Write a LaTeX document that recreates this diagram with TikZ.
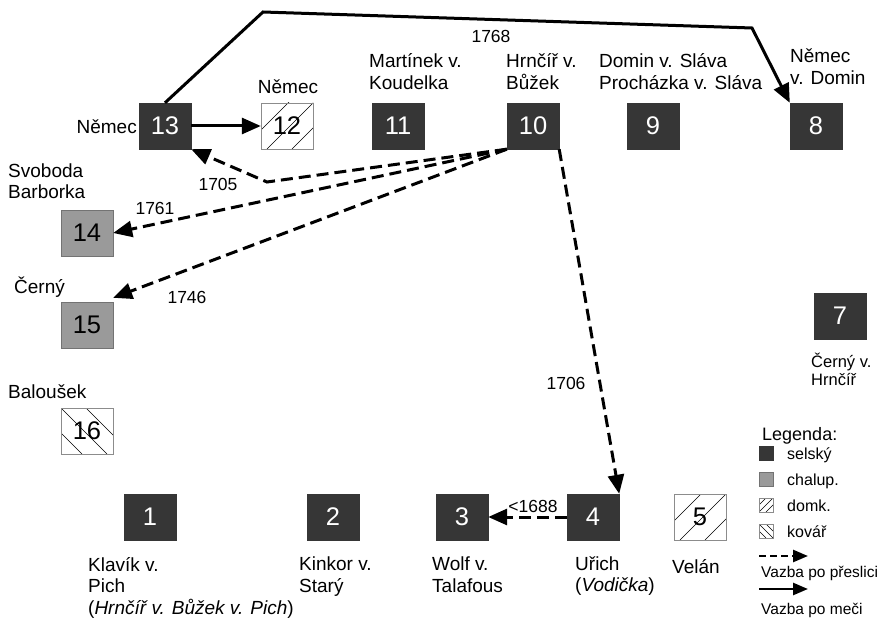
\documentclass[tikz,border=0pt]{standalone}
\usepackage{fontspec}
\setmainfont{Liberation Sans}
\usetikzlibrary{arrows.meta}
\definecolor{dark}{HTML}{363636}
\definecolor{mid}{HTML}{9A9A9A}
\newcommand\lst{\rule[-4pt]{0pt}{17.5pt}}
\newcommand\sst{\rule[-3.5pt]{0pt}{14pt}}
\begin{document}
\begin{tikzpicture}[x=1pt,y=-1pt,
 hatchne/.style={path picture={\foreach \c in {#1}{\draw[black,line width=0.6pt] ([xshift=\c pt]path picture bounding box.south west) -- ++(80pt,80pt);}}},
 hatchnw/.style={path picture={\foreach \c in {#1}{\draw[black,line width=0.6pt] ([xshift=\c pt]path picture bounding box.south west) -- ++(-80pt,80pt);}}},
 bigbox/.style={minimum width=52pt,minimum height=46pt,inner sep=0pt,font=\fontsize{25.5}{28}\selectfont},
 smallbox/.style={minimum width=14pt,minimum height=14pt,inner sep=0pt},
 fsel/.style={fill=dark,draw=dark,text=white},
 fcha/.style={fill=mid,draw=black!55,text=black},
 fhat/.style={fill=white,draw=black!45,text=black},
 lbl/.style={inner sep=0pt,align=left,anchor=north west,font=\fontsize{19}{21.5}\selectfont},
 lbs/.style={inner sep=0pt,font=\fontsize{19}{21.5}\selectfont},
 yr/.style={inner sep=0pt,font=\fontsize{17.5}{19}\selectfont},
 leg/.style={inner sep=0pt,anchor=base west,font=\fontsize{16}{18}\selectfont},
 legv/.style={inner sep=0pt,anchor=base west,font=\fontsize{15.5}{18}\selectfont},
 prs/.style={line width=3pt,dash pattern=on 12pt off 6pt,-{Triangle[length=19pt,width=16pt]}},
 mec/.style={line width=3pt,-{Triangle[length=19pt,width=16pt]}},
 lprs/.style={line width=2.5pt,dash pattern=on 7pt off 4pt,-{Triangle[length=15pt,width=12pt]}},
 lmec/.style={line width=2.5pt,-{Triangle[length=15pt,width=12pt]}},
]
\useasboundingbox (0,0) rectangle (881,620);
\fill[white] (0,0) rectangle (881,620);

% boxes
\node[bigbox,fsel] (n13) at (165,126) {13};
\node[bigbox,fhat,hatchne={-19,6,31}] (n12) at (287,126) {12};
\node[bigbox,fsel] (n11) at (398,126) {11};
\node[bigbox,fsel] (n10) at (533,126) {10};
\node[bigbox,fsel] (n9) at (653,126) {9};
\node[bigbox,fsel] (n8) at (816,126) {8};
\node[bigbox,fcha] (n14) at (87,233) {14};
\node[bigbox,fcha] (n15) at (87,325) {15};
\node[bigbox,fhat,hatchnw={21,46,71}] (n16) at (87,431) {16};
\node[bigbox,fsel] (n7) at (840,316) {7};
\node[bigbox,fsel] (n1) at (150,517) {1};
\node[bigbox,fsel] (n2) at (333,517) {2};
\node[bigbox,fsel] (n3) at (462,517) {3};
\node[bigbox,fsel] (n4) at (593,517) {4};
\node[bigbox,fhat,hatchne={-19,6,31}] (n5) at (700,517) {5};

% labels
\node[lbs,anchor=base east] (t13) at (137,134) {Němec};
\node[lbs,anchor=base] (t12) at (288,94) {Němec};
\node[lbl] (t11) at (369,53.5) {\lst Martínek v.\\\lst Koudelka};
\node[lbl] (t10) at (506,53.5) {\lst Hrnčíř v.\\\lst Bůžek};
\node[lbl] (t9) at (599,53.5) {\lst Domin v. Sláva\\\lst Procházka v. Sláva};
\node[lbl] (t8) at (790,48.5) {\lst Němec\\\lst v. Domin};
\node[lbl] (t14) at (8,163.5) {\lst Svoboda\\\lst Barborka};
\node[lbs,anchor=base west] (t15) at (14,294) {Černý};
\node[lbs,anchor=base west] (t16) at (8,398) {Baloušek};
\node[inner sep=0pt,align=left,anchor=north west,font=\fontsize{16.5}{18}\selectfont] (t7) at (811,353) {\sst Černý v.\\\sst Hrnčíř};
\node[lbl] (t1) at (88,557) {\lst Klavík v.\\\lst Pich\\\lst(\textit{Hrnčíř v. Bůžek v. Pich})};
\node[lbl] (t2) at (299,557) {\lst Kinkor v.\\\lst Starý};
\node[lbl] (t3) at (432,557) {\lst Wolf v.\\\lst Talafous};
\node[lbl] (t4) at (575,556) {\lst Uřich\\\lst(\textit{Vodička})};
\node[lbs,anchor=base west] (t5) at (672,573.5) {Velán};

% connectors
\coordinate (b1) at (263,12);
\coordinate (b2) at (752,28);
\coordinate (b3) at (267,182);
\draw[mec] (n13.north) -- (b1) -- (b2) -- (n8.north west);
\draw[mec] (n13.east) -- (n12.west);
\draw[prs] (n10.south west) -- (b3) -- (n13.south east);
\draw[prs] (n10.south west) -- (n14.east);
\draw[prs] (n10.south west) -- ([yshift=4pt]n15.north east);
\draw[prs] (n10.south east) -- (n4.north east);
\draw[prs] (n4.west) -- (n3.east);

% years
\node[yr] (y1768) at (491,36) {1768};
\node[yr] (y1705) at (218,184) {1705};
\node[yr] (y1761) at (155,208) {1761};
\node[yr] (y1746) at (187,297) {1746};
\node[yr] (y1706) at (566,383) {1706};
\node[yr] (y1688) at (533,506) {<1688};

% legend
\node[inner sep=0pt,anchor=base west,font=\fontsize{18}{21}\selectfont] (lgh) at (762,440) {Legenda:};
\node[smallbox,fsel] (q1) at (766,453) {};
\node[smallbox,fcha] (q2) at (766,479) {};
\node[smallbox,fhat,hatchne={-7,0,7}] (q3) at (766,505) {};
\node[smallbox,fhat,hatchnw={7,14,21}] (q4) at (766,531) {};
\node[leg] (l1) at (787,459.5) {selský};
\node[leg] (l2) at (787,485.5) {chalup.};
\node[leg] (l3) at (787,511.5) {domk.};
\node[leg] (l4) at (787,537.5) {kovář};
\coordinate (la1) at (759,556);
\coordinate (la2) at (808,556);
\coordinate (lb1) at (759,589);
\coordinate (lb2) at (808,589);
\draw[lprs] (la1) -- (la2);
\draw[lmec] (lb1) -- (lb2);
\node[legv] (l5) at (761,577) {Vazba po přeslici};
\node[legv] (l6) at (761,614) {Vazba po meči};
\end{tikzpicture}
\end{document}
